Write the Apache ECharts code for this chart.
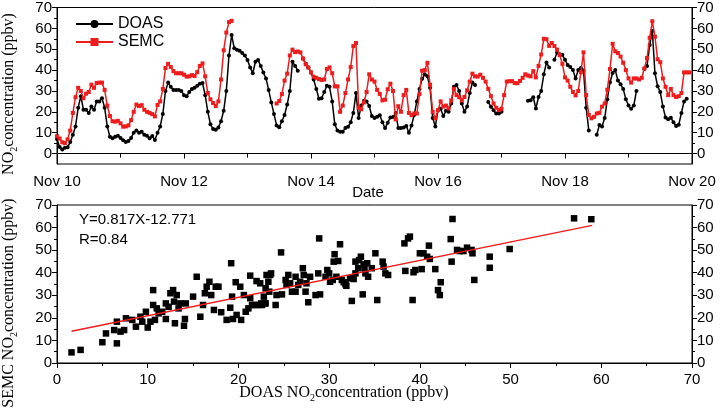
<!DOCTYPE html>
<html>
<head>
<meta charset="utf-8">
<script src="https://cdn.jsdelivr.net/npm/echarts@6/dist/echarts.min.js"></script>
<style>
html,body{margin:0;padding:0;background:#fff;}
#chart{width:721px;height:411px;}
</style>
</head>
<body>
<div id="chart"></div>
<script>
// ---- Data ----
// Top panel: hourly values from Nov 10 00:00 (hour 0) to Nov 20 00:00 (hour 240)
const dateTickLabels = ['Nov 10', 'Nov 12', 'Nov 14', 'Nov 16', 'Nov 18', 'Nov 20'];
const hoursPerDateTick = 48;
const seriesNames = ['DOAS', 'SEMC'];

const doasHourly = [
  7, 3.2, 1.9, 2.8, 3, 5.5, 9, 13, 22, 27.5,
  21, 21, 19.5, 22.5, 21, 25, 25, 26.5, 22, 13,
  8, 7.3, 8, 8.5, 7.5, 6.4, 5.6, 6, 7.5, 10,
  11, 10, 10.5, 9, 8.5, 7.3, 8.4, 6.5, 10, 13,
  19, 30, 34, 32, 30.5, 30.5, 30.5, 30, 28, 27.5,
  29.5, 31, 31.5, 32.5, 33.5, 33.8, 28, 20, 14, 11.8,
  11.4, 12.5, 15.5, 20.5, 30, 47, 56.8, 50.5, 49.7, 49.3,
  48.2, 47, 44.8, 41.3, 38.5, 44, 44.8, 42, 38.8, 36,
  30.5, 24.5, 19, 13.5, 12.6, 15.5, 18.5, 23.5, 30, 44,
  42, 39.7, null, 45.5, 43, 41.3, 38.9, 35.5, 31, 26.3,
  26.5, 29.5, 32.5, 32, 25, 14, 11, 10.5, 10.5, 12.2,
  12.9, 15, 19.5, 29, 17, 23, 25.3, 25, 22.8, 18,
  17, 17.6, 18.4, 15, 12.2, 14.8, 17.3, 17.5, 19.5, 12.2,
  12.2, 12.5, 13.2, 10, 13.5, 18.5, 25, 31, 35.8, 38,
  37, 31.5, 17, 13, 20.8, 21.5, 18, 20.5, 20, 24,
  32, 32.8, 30, 24, 20, 22.5, 29, 34, 32.8, null,
  null, null, null, 24.7, 22.4, 20.8, 19.2, 19.2, 20, null,
  null, null, null, null, null, null, null, null, 25.3, 25.5,
  27, 21.6, 27.1, 30, 38, 43.7, 41.3, null, 45, 48.4,
  47.6, 47.3, 45, 42.5, 41.5, 40, 36, 40, 41, 39.8,
  22, 11, null, null, 9, 13.7, 13, 17, 26, 34.2,
  38.6, 40, 35, 33.2, 31, 26, 23, 21.5, 23, 30,
  null, null, 40.5, 42, 52, 58.7, 38.5, 32.3, 29.5, 22.5,
  17.3, 16.5, 17.2, 15, 13.2, 13.8, 19.5, 25, 26.3, null, null
];

const semcHourly = [
  8.3, 7.2, 5.4, 5, 6.8, 11, 19.5, 27, 31.5, 30,
  26.5, 28.7, 29.5, 33, 31.5, 33.8, 34, 34, 30.5, 23,
  18, 15.5, 15.3, 15.7, 14.5, 12.9, 13, 13.5, 16, 20,
  23.5, 22.8, 23.2, 21, 20, 19.5, 18.9, 17.8, 23.3, 25,
  31, 41, 43, 41.5, 39.5, 38.5, 38.5, 38.5, 37.8, 36.9,
  37, 37.6, 37.2, 39, 42, 43.2, 37, 29, 26, 24.2,
  22.8, 25, 35.5, 49.5, 58, 63, 63.6, null, null, null,
  null, null, null, null, null, null, null, null, null, null,
  null, null, null, 24, 25.2, 28.5, 35, 38.3, 47, 49.8,
  48.6, 48.9, 48.5, 45.5, 42.8, 41.2, 38.9, 36.8, 36.3, 35.7,
  35.3, 35.5, 40.5, 41.3, 38.5, 32.2, 32.2, 20, 23, 29,
  35.5, 41.5, 51.5, 53, 22, 21.2, 24.5, 29.5, 38, 35.5,
  34.5, 30.5, 28.6, 25.5, 25.8, 30.8, 33.5, 30, 16.4, 22.7,
  20, 28, 30.5, 19.5, 18.4, 19.2, 19.2, 28.5, 39.7, 40,
  43.5, 33, 20, 16.9, 20.8, 25, 22.5, 23, 21.6, 25.5,
  31, 28, 27, 25.5, 27.1, 30.3, 34.5, 38.3, 37, 36.9,
  37.8, 36.3, 34.5, 31, 27.5, 24, 22, 20.8, 21.5, 28,
  34.5, 34.7, 34.7, 33.8, 33.7, 34.8, 36.3, 38, 37.4, 37,
  39.5, 36.5, 42, 47.5, 55, 54.8, 51.6, 53, 51.5, 49.8,
  47.2, 43, 36.5, 35, 32, 29.5, 27.9, 30, 39, 48.5,
  28, 18.5, 16.9, 17.6, 19.2, 19.5, 22.5, 24, 30.6, 40.5,
  52.6, 49, 48.2, 46.5, 43.5, 40, 36, 34, 36, 36,
  35.5, 36.3, 40.8, 45.8, 55.5, 63.4, 56, 45.2, 43.8, 36,
  32, 28, 31, 28, 27.1, 27.5, 29, 38.9, 38.9, 38.9, null
];

// Bottom panel: scatter of DOAS (x) vs SEMC (y)
const scatterDoas = [
  1.6, 2.6, 5.0, 5.4, 6.3, 6.6, 6.6, 7.0, 7.4, 7.6, 8.3, 8.7, 9.2, 9.4, 9.8, 10.0, 10.3, 10.6, 10.6, 10.8,
  11.0, 11.2, 11.6, 12.0, 12.0, 12.3, 12.5, 12.8, 12.9, 13.0, 13.2, 13.4, 13.6, 14.0, 14.1, 14.2, 15.0, 15.4, 15.8, 16.1,
  16.3, 16.5, 16.8, 17.0, 17.3, 17.5, 17.8, 18.1, 18.7, 19.1, 19.2, 19.3, 19.4, 19.7, 19.8, 20.2, 20.3, 20.6, 20.8, 21.1,
  21.3, 21.3, 21.5, 21.8, 22.0, 22.2, 22.4, 22.5, 22.9, 23.1, 22.6, 22.8, 23.0, 23.0, 23.3, 23.4, 23.5, 23.6, 24.1, 24.2,
  24.7, 24.8, 25.2, 25.3, 25.5, 25.7, 25.9, 26.3, 26.3, 26.6, 26.8, 27.1, 27.2, 27.4, 27.5, 27.7, 27.9, 28.5, 28.8, 28.9,
  29.0, 29.6, 29.8, 30.0, 30.1, 30.4, 30.5, 30.6, 30.8, 31.0, 31.2, 31.4, 31.6, 31.8, 31.9, 32.3, 32.5, 32.7, 32.9, 32.9,
  33.2, 33.3, 33.5, 33.7, 33.8, 33.9, 34.0, 34.2, 34.3, 34.7, 35.1, 35.3, 35.9, 36.0, 36.2, 36.5, 38.3, 38.4, 38.7, 38.9,
  39.2, 39.3, 39.5, 40.0, 40.2, 40.4, 40.8, 41.0, 41.1, 41.7, 42.0, 42.2, 42.3, 43.4, 43.5, 43.6, 44.1, 44.4, 44.8, 45.2,
  45.7, 46.0, 45.8, 47.7, 47.7, 49.9, 57.0, 58.9
];
const scatterSemc = [
  4.7, 5.8, 9.2, 13.1, 14.6, 18.3, 8.7, 13.9, 14.6, 19.8, 19.1, 16.1, 20.5, 18.3, 22.7, 15.7, 18.3, 32.3, 25.7, 19.1,
  24.2, 22.0, 22.7, 26.4, 19.5, 24.9, 30.9, 32.3, 27.2, 17.6, 30.1, 24.2, 26.4, 16.5, 19.5, 26.4, 29.4, 38.2, 20.5, 25.7,
  30.9, 33.8, 36.0, 30.1, 23.5, 33.8, 33.8, 22.5, 19.1, 24.5, 44.2, 29.4, 19.5, 35.8, 21.3, 33.8, 19.1, 30.1, 22.7, 24.2,
  38.7, 28.7, 25.7, 25.7, 36.3, 25.7, 35.3, 26.4, 26.4, 39.0, 25.7, 29.4, 33.1, 26.4, 36.0, 31.6, 39.0, 39.7, 25.7, 30.1,
  49.0, 30.4, 36.8, 34.6, 39.0, 35.3, 31.6, 38.2, 31.6, 34.6, 36.0, 42.0, 39.0, 31.6, 35.3, 26.9, 38.2, 30.1, 39.7, 55.2,
  30.4, 38.2, 41.2, 39.7, 36.0, 36.8, 44.9, 48.2, 38.2, 45.2, 52.6, 36.8, 35.8, 34.9, 34.2, 37.5, 27.5, 37.2, 39.7, 44.9,
  42.0, 45.6, 47.1, 30.4, 43.7, 42.0, 39.7, 44.2, 38.2, 42.0, 48.6, 27.9, 44.9, 42.7, 39.7, 39.0, 53.0, 40.8, 55.2, 56.0,
  27.9, 40.2, 41.2, 48.6, 41.6, 48.6, 47.1, 52.0, 46.1, 41.6, 32.3, 30.1, 35.8, 54.9, 44.9, 63.8, 50.1, 49.6, 49.6, 51.1,
  50.1, 36.8, 48.6, 47.1, 42.2, 50.5, 64.1, 63.7
];

// Linear fit drawn over the scatter
const fitSlope = 0.817;
const fitIntercept = 12.771;
const fitXRange = [1.6, 59];
const fitLabel = 'Y=0.817X-12.771';
const corrLabel = 'R=0.84';

// ---- Build option ----
const doasData = doasHourly.map((v, h) => [h, v]);
const semcData = semcHourly.map((v, h) => [h, v]);
const scatterData = scatterDoas.map((x, i) => [x, scatterSemc[i]]);
const fitData = fitXRange.map(x => [x, fitSlope * x + fitIntercept]);

const BLACK = '#000';
const RED = '#ee1c1c';
const SANS = 'Liberation Sans';
const SERIF = 'Liberation Serif';
const tens = [0, 10, 20, 30, 40, 50, 60, 70];
const fives = [5, 15, 25, 35, 45, 55, 65];

function baseAxisLine() { return { show: true, lineStyle: { color: BLACK, width: 1 } }; }
const labelStyle = { color: BLACK, fontFamily: SANS, fontSize: 15 };

function topY(pos, minor) {
  return {
    type: 'value', gridIndex: 0, position: pos, min: -5, max: 70,
    axisLine: minor ? { show: false } : baseAxisLine(),
    axisTick: { show: true, inside: false, length: minor ? 3 : 5, customValues: minor ? fives : tens, lineStyle: { color: BLACK } },
    axisLabel: minor ? { show: false } : Object.assign({ customValues: tens, margin: 5 }, labelStyle),
    splitLine: { show: false }
  };
}
function bottomY(pos) {
  return {
    type: 'value', gridIndex: 1, position: pos, min: 0, max: 70, interval: 10,
    axisLine: baseAxisLine(),
    axisTick: { show: true, length: 5, lineStyle: { color: BLACK } },
    minorTick: { show: true, splitNumber: 2, length: 3, lineStyle: { color: BLACK } },
    axisLabel: Object.assign({ margin: 5 }, labelStyle),
    splitLine: { show: false }, minorSplitLine: { show: false }
  };
}

const richLabel = {
  n: { fontFamily: SERIF, fontSize: 16, lineHeight: 20, verticalAlign: 'middle', fill: BLACK, color: BLACK },
  s: { fontFamily: SERIF, fontSize: 10, lineHeight: 11, verticalAlign: 'bottom', fill: BLACK, color: BLACK }
};

const option = {
  animation: false,
  backgroundColor: '#fff',
  grid: [
    { left: 57, right: 29, top: 6, height: 158, show: true, borderColor: BLACK, borderWidth: 1, backgroundColor: 'transparent' },
    { left: 57, right: 29, top: 205, height: 158, show: true, borderColor: BLACK, borderWidth: 1, backgroundColor: 'transparent' }
  ],
  legend: {
    data: seriesNames, orient: 'vertical', left: 70, top: 11, itemWidth: 37, itemHeight: 10, itemGap: 2,
    textStyle: { color: BLACK, fontFamily: SANS, fontSize: 16 }
  },
  xAxis: [
    {
      type: 'value', gridIndex: 0, min: 0, max: 240, interval: hoursPerDateTick,
      axisLine: baseAxisLine(),
      axisTick: { show: true, length: 5, lineStyle: { color: BLACK } },
      minorTick: { show: true, splitNumber: 2, length: 4, lineStyle: { color: BLACK } },
      axisLabel: Object.assign({ margin: 10, showMinLabel: true, showMaxLabel: true,
        formatter: v => dateTickLabels[Math.round(v / hoursPerDateTick)] || '' }, labelStyle),
      splitLine: { show: false }, minorSplitLine: { show: false }
    },
    {
      type: 'value', gridIndex: 1, min: 0, max: 70, interval: 10,
      axisLine: baseAxisLine(),
      axisTick: { show: true, length: 5, lineStyle: { color: BLACK } },
      minorTick: { show: true, splitNumber: 2, length: 3, lineStyle: { color: BLACK } },
      axisLabel: Object.assign({ margin: 9 }, labelStyle),
      splitLine: { show: false }, minorSplitLine: { show: false }
    }
  ],
  yAxis: [
    topY('left', false), topY('right', false), topY('left', true), topY('right', true),
    bottomY('left'), bottomY('right')
  ],
  series: [
    {
      name: 'DOAS', type: 'line', xAxisIndex: 0, yAxisIndex: 0, data: doasData,
      symbol: 'circle', symbolSize: 4, showSymbol: true, connectNulls: false,
      lineStyle: { color: BLACK, width: 1.5 }, itemStyle: { color: BLACK }, z: 2
    },
    {
      name: 'SEMC', type: 'line', xAxisIndex: 0, yAxisIndex: 0, data: semcData,
      symbol: 'rect', symbolSize: 4, showSymbol: true, connectNulls: false,
      lineStyle: { color: RED, width: 1.5 }, itemStyle: { color: RED }, z: 3
    },
    {
      name: 'scatter', type: 'scatter', xAxisIndex: 1, yAxisIndex: 4, data: scatterData,
      symbol: 'rect', symbolSize: 6.5, itemStyle: { color: BLACK, opacity: 1 }, z: 2
    },
    {
      name: 'fit', type: 'line', xAxisIndex: 1, yAxisIndex: 4, data: fitData,
      showSymbol: false, symbol: 'none', lineStyle: { color: RED, width: 1.5 }, z: 3
    }
  ],
  graphic: [
    {
      type: 'text', x: 9, y: 94, rotation: Math.PI / 2,
      style: { text: '{n|NO}{s|2}{n|concentration (ppbv)}', rich: richLabel, align: 'center', verticalAlign: 'middle' }
    },
    {
      type: 'text', x: 9, y: 303, rotation: Math.PI / 2,
      style: { text: '{n|SEMC NO}{s|2}{n|concentration (ppbv)}', rich: richLabel, align: 'center', verticalAlign: 'middle' }
    },
    {
      type: 'text', x: 344, y: 393,
      style: { text: '{n|DOAS NO}{s|2}{n|concentration (ppbv)}', rich: richLabel, align: 'center', verticalAlign: 'middle' }
    },
    {
      type: 'text', x: 368, y: 193,
      style: { text: 'Date', fill: BLACK, font: '15px "Liberation Sans"', align: 'center', verticalAlign: 'middle' }
    },
    {
      type: 'text', x: 79, y: 220,
      style: { text: fitLabel, fill: BLACK, font: '15px "Liberation Sans"', align: 'left', verticalAlign: 'middle' }
    },
    {
      type: 'text', x: 79, y: 240,
      style: { text: corrLabel, fill: BLACK, font: '15px "Liberation Sans"', align: 'left', verticalAlign: 'middle' }
    }
  ]
};

const chart = echarts.init(document.getElementById('chart'), null, { renderer: 'canvas' });
chart.setOption(option);
</script>
</body>
</html>
